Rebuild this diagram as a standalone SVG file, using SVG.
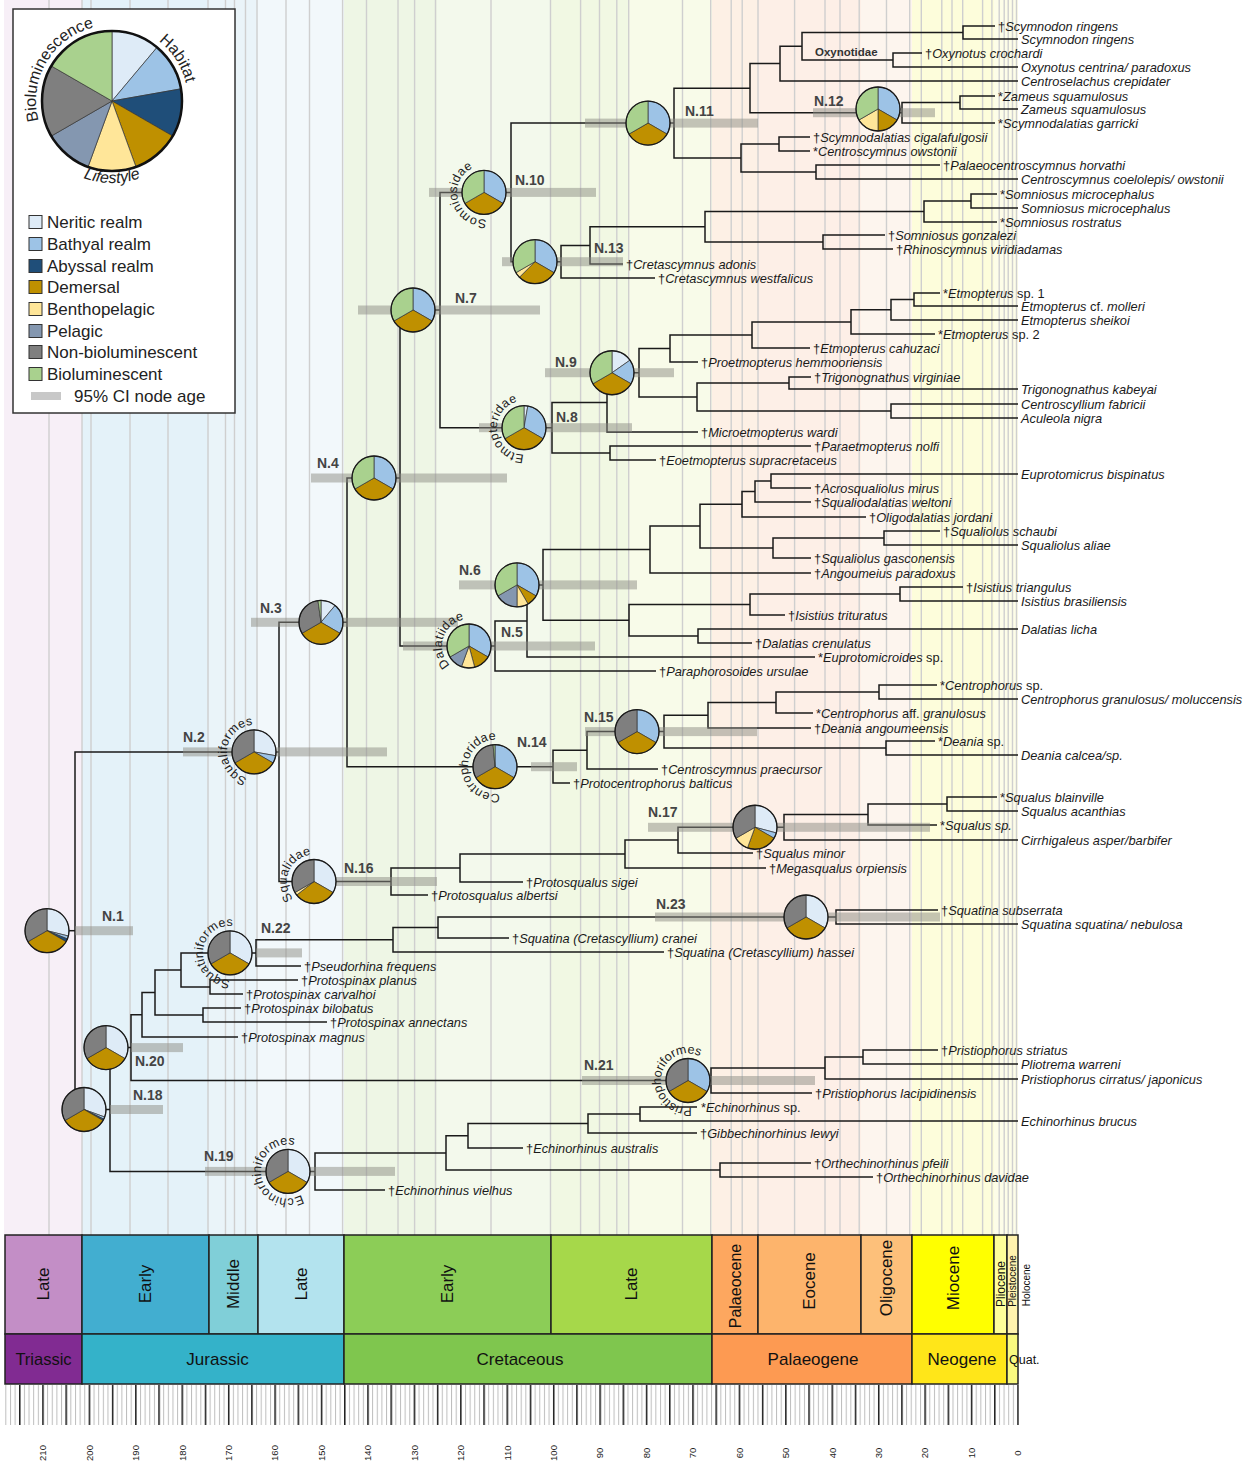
<svg xmlns="http://www.w3.org/2000/svg" width="1247" height="1464" viewBox="0 0 1247 1464">
<style>
.grid{fill:none;stroke:#cfcfcf;stroke-width:1.4}
.br{fill:none;stroke:#1a1a1a;stroke-width:1.5}
.ci{fill:#8c8c84;opacity:.5}
.tx{font-family:"Liberation Sans",Arial,sans-serif;font-size:12.8px;font-style:italic;fill:#1a1a1a}
.up{font-style:normal}
.nl{font-family:"Liberation Sans",Arial,sans-serif;font-size:14px;font-weight:bold;fill:#444}
.cl{font-family:"Liberation Sans",Arial,sans-serif;font-size:12.5px;letter-spacing:.3px;fill:#222}
.w{stroke:#333;stroke-width:.7}
.ner{fill:#deebf7}.bat{fill:#9dc3e6}.aby{fill:#1f4e79}.dem{fill:#bf9000}.ben{fill:#ffe699}.pel{fill:#8497b0}.non{fill:#7f7f7f}.bio{fill:#a9d18e}
.rim{fill:none;stroke:#1a1a1a;stroke-width:1.3}
.lg{font-family:"Liberation Sans",Arial,sans-serif;font-size:17px;fill:#222}
.lg2{font-family:"Liberation Sans",Arial,sans-serif;font-size:16px;fill:#222}
.sq{stroke:#333;stroke-width:1}
.ts{stroke:#222;stroke-width:1.5}
.t1{font-family:"Liberation Sans",Arial,sans-serif;fill:#111;text-anchor:middle}
.tk{font-family:"Liberation Sans",Arial,sans-serif;font-size:9.5px;fill:#222;text-anchor:middle}
</style>
<defs>
<pattern id="pm" patternUnits="userSpaceOnUse" x="1017.5" y="0" width="4.643" height="1464"><rect x="0" y="0" width="1" height="1464" fill="#bdbdbd"/></pattern>
<pattern id="pM" patternUnits="userSpaceOnUse" x="1017.25" y="0" width="23.215" height="1464"><rect x="0" y="0" width="1.5" height="1464" fill="#222"/></pattern>
<path id="cpSqf" d="M247,778 A27,27 0 1 1 273.1,771"/>
<path id="cpSom" d="M486.4,219.3 A27,27 0 1 1 508.5,203.8"/>
<path id="cpEtm" d="M524,454.7 A27,27 0 1 1 547.4,441.2"/>
<path id="cpDal" d="M449.9,665.1 A27,27 0 1 1 476,672.1"/>
<path id="cpCen" d="M499.7,793.3 A27,27 0 1 1 520.4,775.9"/>
<path id="cpSql" d="M293.3,898.9 A27,27 0 1 1 318.7,908.1"/>
<path id="cpSqt" d="M230,979.9 A27,27 0 1 1 253.4,966.4"/>
<path id="cpPri" d="M691.8,1107.2 A27,27 0 1 1 713,1090.6"/>
<path id="cpEch" d="M301.5,1194.8 A27,27 0 1 1 315,1171.4"/>
<path id="lpBio" d="M38.6,120.7 A76,76 0 0 1 150,35.2"/>
<path id="lpHab" d="M158.8,41.1 A76,76 0 0 1 170.2,149.9"/>
<path id="lpLif" d="M65,168.2 A82,82 0 0 0 159,168.2"/>
</defs>

<g id="background">
<rect x="4" y="0" width="78" height="1235" fill="#f7eff7"/>
<rect x="82" y="0" width="127" height="1235" fill="#e4f2f9"/>
<rect x="209" y="0" width="49" height="1235" fill="#eaf4f9"/>
<rect x="258" y="0" width="86" height="1235" fill="#f2f8fb"/>
<rect x="344" y="0" width="93" height="1235" fill="#eef6e5"/>
<rect x="437" y="0" width="114" height="1235" fill="#f3f9ec"/>
<rect x="551" y="0" width="78" height="1235" fill="#f1f8e3"/>
<rect x="629" y="0" width="83" height="1235" fill="#f8fbe9"/>
<rect x="712" y="0" width="46" height="1235" fill="#fdf0e5"/>
<rect x="758" y="0" width="103" height="1235" fill="#fdefe7"/>
<rect x="861" y="0" width="51" height="1235" fill="#fdf5ee"/>
<rect x="912" y="0" width="82" height="1235" fill="#fdfddb"/>
<rect x="994" y="0" width="24" height="1235" fill="#fdfde8"/>
<path class="grid" d="M49 0V1235M82 0V1235M91 0V1235M130 0V1235M168 0V1235M208 0V1235M225.5 0V1235M234.5 0V1235M245.5 0V1235M257 0V1235M286 0V1235M309.5 0V1235M342.6 0V1235M366.5 0V1235M398 0V1235M414.6 0V1235M435.5 0V1235M491 0V1235M550.5 0V1235M580.6 0V1235M599.5 0V1235M616.8 0V1235M628.7 0V1235M682.5 0V1235M710.7 0V1235M731.2 0V1235M742.2 0V1235M758 0V1235M794.6 0V1235M825 0V1235M840 0V1235M859.2 0V1235M886.5 0V1235M909.7 0V1235M921.3 0V1235M941.8 0V1235M952 0V1235M962.7 0V1235M982.6 0V1235M991.9 0V1235M999.2 0V1235M1004.2 0V1235M1008.2 0V1235M1012.5 0V1235M1016.5 0V1235"/>
</g>

<g id="connectors" class="br">
<path d="M995,26H963V39H1018"/>
<path d="M922,53H893V67H1018"/>
<path d="M963,32.5H802V60H893"/>
<path d="M802,46.25H780V81H1018"/>
<path d="M995,96H960V109H1018"/>
<path d="M960,102.5H902V123H995"/>
<path d="M780,63.6H750V112.75H902"/>
<path d="M810,137H779V151H810"/>
<path d="M940,165H816V179H1018"/>
<path d="M779,144H741V172H816"/>
<path d="M750,88.2H674V158H741"/>
<path d="M997,194H971V208H1018"/>
<path d="M971,201H924V222H997"/>
<path d="M885,235H823V249H893"/>
<path d="M924,211.5H705V242H823"/>
<path d="M705,226.75H590V264H623"/>
<path d="M590,245.4H561V278H655"/>
<path d="M674,123.1H511V261.7H561"/>
<path d="M940,293H914V306H1018"/>
<path d="M914,299.5H891V320H1018"/>
<path d="M891,309.75H851V334H935"/>
<path d="M851,321.9H752V348H810"/>
<path d="M752,335H670V362H698"/>
<path d="M811,377H789V389H1018"/>
<path d="M1018,404H891V418H1018"/>
<path d="M789,383H697V411H891"/>
<path d="M670,348.5H639V397H697"/>
<path d="M639,372.75H607V432H698"/>
<path d="M811,446H610V460H656"/>
<path d="M607,402.4H552V453H610"/>
<path d="M511,192.4H440V427.7H552"/>
<path d="M1018,474H771V488H811"/>
<path d="M771,481H755V502H811"/>
<path d="M755,491.5H742V517H866"/>
<path d="M940,531H884V545H1018"/>
<path d="M884,538H773V558H811"/>
<path d="M742,504.25H700V548H773"/>
<path d="M700,526.1H650V573H811"/>
<path d="M963,587H900V601H1018"/>
<path d="M900,594H750V615H785"/>
<path d="M1018,629H698V643H752"/>
<path d="M750,604.5H629V636H698"/>
<path d="M650,549.6H543V620.25H629"/>
<path d="M543,584.9H527V657H815"/>
<path d="M527,621H495V671H656"/>
<path d="M440,310H400V646H495"/>
<path d="M937,685H879V699H1018"/>
<path d="M879,692H776V713H813"/>
<path d="M776,702.5H708V728H811"/>
<path d="M935,741H886V755H1018"/>
<path d="M708,715.25H664V748H886"/>
<path d="M664,731.6H587V769H658"/>
<path d="M587,750.3H553V783H570"/>
<path d="M400,478H347V766.7H553"/>
<path d="M997,797H947V811H1018"/>
<path d="M947,804H868V825H937"/>
<path d="M868,814.5H784V840H1018"/>
<path d="M784,827.25H678V853H753"/>
<path d="M678,840.1H625V868H766"/>
<path d="M625,854H460V882H523"/>
<path d="M460,868H391V895H428"/>
<path d="M347,622.3H279V881.5H391"/>
<path d="M938,910H836V924H1018"/>
<path d="M836,917H438V938H509"/>
<path d="M438,927.5H393V952H664"/>
<path d="M393,939.75H256V966H301"/>
<path d="M298,980H210V994H243"/>
<path d="M256,952.9H181V987H210"/>
<path d="M241,1008H203V1022H327"/>
<path d="M181,970H155V1015H203"/>
<path d="M155,992.5H142V1037H238"/>
<path d="M938,1050H863V1064H1018"/>
<path d="M863,1057H825V1079H1018"/>
<path d="M825,1068H711V1093H812"/>
<path d="M142,1014.75H131V1080.5H711"/>
<path d="M697,1107H640V1121H1018"/>
<path d="M640,1114H588V1133H697"/>
<path d="M588,1123.5H468V1148H523"/>
<path d="M811,1163H720V1177H873"/>
<path d="M468,1135.75H446V1170H720"/>
<path d="M446,1152.9H315V1190H385"/>
<path d="M131,1047.6H110V1171.4H315"/>
<path d="M279,751.9H75V1109.5H110"/>
<path d="M47,930.7H75"/>
</g>

<g id="tips" class="tx">
<text x="998" y="30.5"><tspan class="up">†</tspan>Scymnodon ringens</text>
<text x="1021" y="43.5">Scymnodon ringens</text>
<text x="925" y="57.5"><tspan class="up">†</tspan>Oxynotus crochardi</text>
<text x="1021" y="71.5">Oxynotus centrina/ paradoxus</text>
<text x="1021" y="85.5">Centroselachus crepidater</text>
<text x="998" y="100.5"><tspan class="up">*</tspan>Zameus squamulosus</text>
<text x="1021" y="113.5">Zameus squamulosus</text>
<text x="998" y="127.5"><tspan class="up">*</tspan>Scymnodalatias garricki</text>
<text x="813" y="141.5"><tspan class="up">†</tspan>Scymnodalatias cigalafulgosii</text>
<text x="813" y="155.5"><tspan class="up">*</tspan>Centroscymnus owstonii</text>
<text x="943" y="169.5"><tspan class="up">†</tspan>Palaeocentroscymnus horvathi</text>
<text x="1021" y="183.5">Centroscymnus coelolepis/ owstonii</text>
<text x="1000" y="198.5"><tspan class="up">*</tspan>Somniosus microcephalus</text>
<text x="1021" y="212.5">Somniosus microcephalus</text>
<text x="1000" y="226.5"><tspan class="up">*</tspan>Somniosus rostratus</text>
<text x="888" y="239.5"><tspan class="up">†</tspan>Somniosus gonzalezi</text>
<text x="896" y="253.5"><tspan class="up">†</tspan>Rhinoscymnus viridiadamas</text>
<text x="626" y="268.5"><tspan class="up">†</tspan>Cretascymnus adonis</text>
<text x="658" y="282.5"><tspan class="up">†</tspan>Cretascymnus westfalicus</text>
<text x="943" y="297.5"><tspan class="up">*</tspan>Etmopterus<tspan class="up"> sp. 1</tspan></text>
<text x="1021" y="310.5">Etmopterus <tspan class="up">cf.</tspan> molleri</text>
<text x="1021" y="324.5">Etmopterus sheikoi</text>
<text x="938" y="338.5"><tspan class="up">*</tspan>Etmopterus<tspan class="up"> sp. 2</tspan></text>
<text x="813" y="352.5"><tspan class="up">†</tspan>Etmopterus cahuzaci</text>
<text x="701" y="366.5"><tspan class="up">†</tspan>Proetmopterus hemmooriensis</text>
<text x="814" y="381.5"><tspan class="up">†</tspan>Trigonognathus virginiae</text>
<text x="1021" y="393.5">Trigonognathus kabeyai</text>
<text x="1021" y="408.5">Centroscyllium fabricii</text>
<text x="1021" y="422.5">Aculeola nigra</text>
<text x="701" y="436.5"><tspan class="up">†</tspan>Microetmopterus wardi</text>
<text x="814" y="450.5"><tspan class="up">†</tspan>Paraetmopterus nolfi</text>
<text x="659" y="464.5"><tspan class="up">†</tspan>Eoetmopterus supracretaceus</text>
<text x="1021" y="478.5">Euprotomicrus bispinatus</text>
<text x="814" y="492.5"><tspan class="up">†</tspan>Acrosqualiolus mirus</text>
<text x="814" y="506.5"><tspan class="up">†</tspan>Squaliodalatias weltoni</text>
<text x="869" y="521.5"><tspan class="up">†</tspan>Oligodalatias jordani</text>
<text x="943" y="535.5"><tspan class="up">†</tspan>Squaliolus schaubi</text>
<text x="1021" y="549.5">Squaliolus aliae</text>
<text x="814" y="562.5"><tspan class="up">†</tspan>Squaliolus gasconensis</text>
<text x="814" y="577.5"><tspan class="up">†</tspan>Angoumeius paradoxus</text>
<text x="966" y="591.5"><tspan class="up">†</tspan>Isistius triangulus</text>
<text x="1021" y="605.5">Isistius brasiliensis</text>
<text x="788" y="619.5"><tspan class="up">†</tspan>Isistius trituratus</text>
<text x="1021" y="633.5">Dalatias licha</text>
<text x="755" y="647.5"><tspan class="up">†</tspan>Dalatias crenulatus</text>
<text x="818" y="661.5"><tspan class="up">*</tspan>Euprotomicroides<tspan class="up"> sp.</tspan></text>
<text x="659" y="675.5"><tspan class="up">†</tspan>Paraphorosoides ursulae</text>
<text x="940" y="689.5"><tspan class="up">*</tspan>Centrophorus<tspan class="up"> sp.</tspan></text>
<text x="1021" y="703.5">Centrophorus granulosus/ moluccensis</text>
<text x="816" y="717.5"><tspan class="up">*</tspan>Centrophorus <tspan class="up">aff.</tspan> granulosus</text>
<text x="814" y="732.5"><tspan class="up">†</tspan>Deania angoumeensis</text>
<text x="938" y="745.5"><tspan class="up">*</tspan>Deania<tspan class="up"> sp.</tspan></text>
<text x="1021" y="759.5">Deania calcea/sp.</text>
<text x="661" y="773.5"><tspan class="up">†</tspan>Centroscymnus praecursor</text>
<text x="573" y="787.5"><tspan class="up">†</tspan>Protocentrophorus balticus</text>
<text x="1000" y="801.5"><tspan class="up">*</tspan>Squalus blainville</text>
<text x="1021" y="815.5">Squalus acanthias</text>
<text x="940" y="829.5"><tspan class="up">*</tspan>Squalus sp.</text>
<text x="1021" y="844.5">Cirrhigaleus asper/barbifer</text>
<text x="756" y="857.5"><tspan class="up">†</tspan>Squalus minor</text>
<text x="769" y="872.5"><tspan class="up">†</tspan>Megasqualus orpiensis</text>
<text x="526" y="886.5"><tspan class="up">†</tspan>Protosqualus sigei</text>
<text x="431" y="899.5"><tspan class="up">†</tspan>Protosqualus albertsi</text>
<text x="941" y="914.5"><tspan class="up">†</tspan>Squatina subserrata</text>
<text x="1021" y="928.5">Squatina squatina/ nebulosa</text>
<text x="512" y="942.5"><tspan class="up">†</tspan>Squatina (Cretascyllium) cranei</text>
<text x="667" y="956.5"><tspan class="up">†</tspan>Squatina (Cretascyllium) hassei</text>
<text x="304" y="970.5"><tspan class="up">†</tspan>Pseudorhina frequens</text>
<text x="301" y="984.5"><tspan class="up">†</tspan>Protospinax planus</text>
<text x="246" y="998.5"><tspan class="up">†</tspan>Protospinax carvalhoi</text>
<text x="244" y="1012.5"><tspan class="up">†</tspan>Protospinax bilobatus</text>
<text x="330" y="1026.5"><tspan class="up">†</tspan>Protospinax annectans</text>
<text x="241" y="1041.5"><tspan class="up">†</tspan>Protospinax magnus</text>
<text x="941" y="1054.5"><tspan class="up">†</tspan>Pristiophorus striatus</text>
<text x="1021" y="1068.5">Pliotrema warreni</text>
<text x="1021" y="1083.5">Pristiophorus cirratus/ japonicus</text>
<text x="815" y="1097.5"><tspan class="up">†</tspan>Pristiophorus lacipidinensis</text>
<text x="701" y="1111.5"><tspan class="up">*</tspan>Echinorhinus<tspan class="up"> sp.</tspan></text>
<text x="1021" y="1125.5">Echinorhinus brucus</text>
<text x="700" y="1137.5"><tspan class="up">†</tspan>Gibbechinorhinus lewyi</text>
<text x="526" y="1152.5"><tspan class="up">†</tspan>Echinorhinus australis</text>
<text x="814" y="1167.5"><tspan class="up">†</tspan>Orthechinorhinus pfeili</text>
<text x="876" y="1181.5"><tspan class="up">†</tspan>Orthechinorhinus davidae</text>
<text x="388" y="1194.5"><tspan class="up">†</tspan>Echinorhinus vielhus</text>
</g>
<text id="oxynotidae" x="815" y="56" font-family="Liberation Sans, Arial, sans-serif" font-size="11.5" font-weight="bold" fill="#333">Oxynotidae</text>

<g id="N1"><rect class="ci" x="75" y="926.2" width="58" height="9"/>
<g transform="translate(47,930.7)"><path class="w ner" d="M0,0V-22A22,22 0 0 1 21.35,5.32Z"/><path class="w bat" d="M0,0L21.35,5.32A22,22 0 0 1 20.4,8.24Z"/><path class="w aby" d="M0,0L20.4,8.24A22,22 0 0 1 19.05,11Z"/><path class="w dem" d="M0,0L19.05,11A22,22 0 0 1 -19.05,11Z"/><path class="w non" d="M0,0L-19.05,11A22,22 0 0 1 0,-22Z"/><circle class="rim" r="22"/></g>
<text class="nl" x="102" y="921">N.1</text></g>

<g id="N2"><rect class="ci" x="183" y="747.4" width="204" height="9"/>
<g transform="translate(254,751.9)"><path class="w ner" d="M0,0V-22A22,22 0 0 1 21.67,3.82Z"/><path class="w bat" d="M0,0L21.67,3.82A22,22 0 0 1 19.05,11Z"/><path class="w dem" d="M0,0L19.05,11A22,22 0 0 1 -19.05,11Z"/><path class="w non" d="M0,0L-19.05,11A22,22 0 0 1 0,-22Z"/><circle class="rim" r="22"/></g>
<text class="nl" x="183" y="742">N.2</text>
<text class="cl"><textPath href="#cpSqf">Squaliformes</textPath></text></g>

<g id="N3"><rect class="ci" x="251" y="617.8" width="207" height="9"/>
<g transform="translate(321,622.3)"><path class="w ner" d="M0,0V-22A22,22 0 0 1 14.14,-16.85Z"/><path class="w bat" d="M0,0L14.14,-16.85A22,22 0 0 1 19.05,11Z"/><path class="w dem" d="M0,0L19.05,11A22,22 0 0 1 -19.05,11Z"/><path class="w non" d="M0,0L-19.05,11A22,22 0 0 1 -3.06,-21.79Z"/><path class="w bio" d="M0,0L-3.06,-21.79A22,22 0 0 1 0,-22Z"/><circle class="rim" r="22"/></g>
<text class="nl" x="260" y="613">N.3</text></g>

<g id="N4"><rect class="ci" x="311" y="473.5" width="196" height="9"/>
<g transform="translate(374,478)"><path class="w bat" d="M0,0V-22A22,22 0 0 1 19.05,11Z"/><path class="w dem" d="M0,0L19.05,11A22,22 0 0 1 -19.05,11Z"/><path class="w bio" d="M0,0L-19.05,11A22,22 0 0 1 0,-22Z"/><circle class="rim" r="22"/></g>
<text class="nl" x="317" y="468">N.4</text></g>

<g id="N5"><rect class="ci" x="403" y="641.5" width="192" height="9"/>
<g transform="translate(469,646)"><path class="w bat" d="M0,0V-22A22,22 0 0 1 19.05,11Z"/><path class="w dem" d="M0,0L19.05,11A22,22 0 0 1 5.69,21.25Z"/><path class="w ben" d="M0,0L5.69,21.25A22,22 0 0 1 -7.52,20.67Z"/><path class="w pel" d="M0,0L-7.52,20.67A22,22 0 0 1 -19.05,11Z"/><path class="w bio" d="M0,0L-19.05,11A22,22 0 0 1 0,-22Z"/><circle class="rim" r="22"/></g>
<text class="nl" x="501" y="637">N.5</text>
<text class="cl"><textPath href="#cpDal">Dalatiidae</textPath></text></g>

<g id="N6"><rect class="ci" x="459" y="580.4" width="178" height="9"/>
<g transform="translate(517,584.9)"><path class="w bat" d="M0,0V-22A22,22 0 0 1 19.05,11Z"/><path class="w dem" d="M0,0L19.05,11A22,22 0 0 1 11,19.05Z"/><path class="w ben" d="M0,0L11,19.05A22,22 0 0 1 0,22Z"/><path class="w pel" d="M0,0L0,22A22,22 0 0 1 -19.05,11Z"/><path class="w bio" d="M0,0L-19.05,11A22,22 0 0 1 0,-22Z"/><circle class="rim" r="22"/></g>
<text class="nl" x="459" y="575">N.6</text></g>

<g id="N7"><rect class="ci" x="358" y="305.5" width="182" height="9"/>
<g transform="translate(413,310)"><path class="w bat" d="M0,0V-22A22,22 0 0 1 19.05,11Z"/><path class="w dem" d="M0,0L19.05,11A22,22 0 0 1 -19.05,11Z"/><path class="w bio" d="M0,0L-19.05,11A22,22 0 0 1 0,-22Z"/><circle class="rim" r="22"/></g>
<text class="nl" x="455" y="303">N.7</text></g>

<g id="N8"><rect class="ci" x="479" y="423.2" width="153" height="9"/>
<g transform="translate(524,427.7)"><path class="w ner" d="M0,0V-22A22,22 0 0 1 3.82,-21.67Z"/><path class="w bat" d="M0,0L3.82,-21.67A22,22 0 0 1 19.05,11Z"/><path class="w dem" d="M0,0L19.05,11A22,22 0 0 1 -19.05,11Z"/><path class="w bio" d="M0,0L-19.05,11A22,22 0 0 1 0,-22Z"/><circle class="rim" r="22"/></g>
<text class="nl" x="556" y="422">N.8</text>
<text class="cl"><textPath href="#cpEtm">Etmopteridae</textPath></text></g>

<g id="N9"><rect class="ci" x="545" y="368.2" width="129" height="9"/>
<g transform="translate(612,372.75)"><path class="w ner" d="M0,0V-22A22,22 0 0 1 18.02,-12.62Z"/><path class="w bat" d="M0,0L18.02,-12.62A22,22 0 0 1 19.05,11Z"/><path class="w dem" d="M0,0L19.05,11A22,22 0 0 1 -19.05,11Z"/><path class="w bio" d="M0,0L-19.05,11A22,22 0 0 1 0,-22Z"/><circle class="rim" r="22"/></g>
<text class="nl" x="555" y="367">N.9</text></g>

<g id="N10"><rect class="ci" x="429" y="187.9" width="167" height="9"/>
<g transform="translate(484,192.4)"><path class="w bat" d="M0,0V-22A22,22 0 0 1 19.05,11Z"/><path class="w dem" d="M0,0L19.05,11A22,22 0 0 1 -19.05,11Z"/><path class="w bio" d="M0,0L-19.05,11A22,22 0 0 1 0,-22Z"/><circle class="rim" r="22"/></g>
<text class="nl" x="515" y="185">N.10</text>
<text class="cl"><textPath href="#cpSom">Somniosidae</textPath></text></g>

<g id="N11"><rect class="ci" x="585" y="118.6" width="173" height="9"/>
<g transform="translate(648,123.1)"><path class="w bat" d="M0,0V-22A22,22 0 0 1 19.05,11Z"/><path class="w dem" d="M0,0L19.05,11A22,22 0 0 1 -19.05,11Z"/><path class="w bio" d="M0,0L-19.05,11A22,22 0 0 1 0,-22Z"/><circle class="rim" r="22"/></g>
<text class="nl" x="685" y="116">N.11</text></g>

<g id="N12"><rect class="ci" x="813" y="108.2" width="122" height="9"/>
<g transform="translate(878,109)"><path class="w bat" d="M0,0V-22A22,22 0 0 1 19.05,11Z"/><path class="w dem" d="M0,0L19.05,11A22,22 0 0 1 0,22Z"/><path class="w ben" d="M0,0L0,22A22,22 0 0 1 -19.05,11Z"/><path class="w bio" d="M0,0L-19.05,11A22,22 0 0 1 0,-22Z"/><circle class="rim" r="22"/></g>
<text class="nl" x="814" y="106">N.12</text></g>

<g id="N13"><rect class="ci" x="502" y="257.2" width="121" height="9"/>
<g transform="translate(535,261.7)"><path class="w bat" d="M0,0V-22A22,22 0 0 1 19.05,11Z"/><path class="w dem" d="M0,0L19.05,11A22,22 0 0 1 -15.56,15.56Z"/><path class="w ben" d="M0,0L-15.56,15.56A22,22 0 0 1 -19.05,11Z"/><path class="w bio" d="M0,0L-19.05,11A22,22 0 0 1 0,-22Z"/><circle class="rim" r="22"/></g>
<text class="nl" x="594" y="253">N.13</text></g>

<g id="N14"><rect class="ci" x="531" y="762.2" width="46" height="9"/>
<g transform="translate(495,766.7)"><path class="w bat" d="M0,0V-22A22,22 0 0 1 19.05,11Z"/><path class="w dem" d="M0,0L19.05,11A22,22 0 0 1 -19.05,11Z"/><path class="w non" d="M0,0L-19.05,11A22,22 0 0 1 -1.92,-21.92Z"/><path class="w bio" d="M0,0L-1.92,-21.92A22,22 0 0 1 0,-22Z"/><circle class="rim" r="22"/></g>
<text class="nl" x="517" y="747">N.14</text>
<text class="cl"><textPath href="#cpCen">Centrophoridae</textPath></text></g>

<g id="N15"><rect class="ci" x="585" y="727.1" width="172" height="9"/>
<g transform="translate(637,731.6)"><path class="w bat" d="M0,0V-22A22,22 0 0 1 19.05,11Z"/><path class="w dem" d="M0,0L19.05,11A22,22 0 0 1 -19.05,11Z"/><path class="w non" d="M0,0L-19.05,11A22,22 0 0 1 0,-22Z"/><circle class="rim" r="22"/></g>
<text class="nl" x="584" y="722">N.15</text></g>

<g id="N16"><rect class="ci" x="315" y="877" width="122" height="9"/>
<g transform="translate(314,881.5)"><path class="w ner" d="M0,0V-22A22,22 0 0 1 19.05,11Z"/><path class="w dem" d="M0,0L19.05,11A22,22 0 0 1 -17.34,13.55Z"/><path class="w ben" d="M0,0L-17.34,13.55A22,22 0 0 1 -19.05,11Z"/><path class="w non" d="M0,0L-19.05,11A22,22 0 0 1 0,-22Z"/><circle class="rim" r="22"/></g>
<text class="nl" x="344" y="873">N.16</text>
<text class="cl"><textPath href="#cpSql">Squalidae</textPath></text></g>

<g id="N17"><rect class="ci" x="648" y="822.8" width="282" height="9"/>
<g transform="translate(755,827.25)"><path class="w ner" d="M0,0V-22A22,22 0 0 1 21.25,5.69Z"/><path class="w bat" d="M0,0L21.25,5.69A22,22 0 0 1 19.05,11Z"/><path class="w dem" d="M0,0L19.05,11A22,22 0 0 1 -7.52,20.67Z"/><path class="w ben" d="M0,0L-7.52,20.67A22,22 0 0 1 -19.05,11Z"/><path class="w non" d="M0,0L-19.05,11A22,22 0 0 1 0,-22Z"/><circle class="rim" r="22"/></g>
<text class="nl" x="648" y="817">N.17</text></g>

<g id="N18"><rect class="ci" x="110" y="1105" width="53" height="9"/>
<g transform="translate(84,1109.5)"><path class="w ner" d="M0,0V-22A22,22 0 0 1 20.67,7.52Z"/><path class="w bat" d="M0,0L20.67,7.52A22,22 0 0 1 19.77,9.64Z"/><path class="w aby" d="M0,0L19.77,9.64A22,22 0 0 1 19.05,11Z"/><path class="w dem" d="M0,0L19.05,11A22,22 0 0 1 -19.05,11Z"/><path class="w non" d="M0,0L-19.05,11A22,22 0 0 1 0,-22Z"/><circle class="rim" r="22"/></g>
<text class="nl" x="133" y="1100">N.18</text></g>

<g id="N19"><rect class="ci" x="205" y="1166.9" width="190" height="9"/>
<g transform="translate(288,1171.4)"><path class="w ner" d="M0,0V-22A22,22 0 0 1 19.05,11Z"/><path class="w dem" d="M0,0L19.05,11A22,22 0 0 1 -19.05,11Z"/><path class="w non" d="M0,0L-19.05,11A22,22 0 0 1 0,-22Z"/><circle class="rim" r="22"/></g>
<text class="nl" x="204" y="1161">N.19</text>
<text class="cl"><textPath href="#cpEch">Echinorhiniformes</textPath></text></g>

<g id="N20"><rect class="ci" x="131" y="1043.1" width="52" height="9"/>
<g transform="translate(106,1047.6)"><path class="w ner" d="M0,0V-22A22,22 0 0 1 19.05,11Z"/><path class="w dem" d="M0,0L19.05,11A22,22 0 0 1 -19.05,11Z"/><path class="w non" d="M0,0L-19.05,11A22,22 0 0 1 0,-22Z"/><circle class="rim" r="22"/></g>
<text class="nl" x="135" y="1066">N.20</text></g>

<g id="N21"><rect class="ci" x="582" y="1076" width="233" height="9"/>
<g transform="translate(688,1080.5)"><path class="w bat" d="M0,0V-22A22,22 0 0 1 19.05,11Z"/><path class="w dem" d="M0,0L19.05,11A22,22 0 0 1 -19.05,11Z"/><path class="w non" d="M0,0L-19.05,11A22,22 0 0 1 0,-22Z"/><circle class="rim" r="22"/></g>
<text class="nl" x="584" y="1070">N.21</text>
<text class="cl" style="letter-spacing:0"><textPath href="#cpPri">Pristiophoriformes</textPath></text></g>

<g id="N22"><rect class="ci" x="256" y="948.4" width="46" height="9"/>
<g transform="translate(230,952.9)"><path class="w ner" d="M0,0V-22A22,22 0 0 1 19.05,11Z"/><path class="w dem" d="M0,0L19.05,11A22,22 0 0 1 -19.05,11Z"/><path class="w non" d="M0,0L-19.05,11A22,22 0 0 1 0,-22Z"/><circle class="rim" r="22"/></g>
<text class="nl" x="261" y="933">N.22</text>
<text class="cl"><textPath href="#cpSqt">Squatiniformes</textPath></text></g>

<g id="N23"><rect class="ci" x="655" y="912.5" width="285" height="9"/>
<g transform="translate(806,917)"><path class="w ner" d="M0,0V-22A22,22 0 0 1 19.05,11Z"/><path class="w dem" d="M0,0L19.05,11A22,22 0 0 1 -19.05,11Z"/><path class="w non" d="M0,0L-19.05,11A22,22 0 0 1 0,-22Z"/><circle class="rim" r="22"/></g>
<text class="nl" x="656" y="909">N.23</text></g>

<g id="legend">
<rect x="13" y="9" width="222" height="404" fill="#fff" stroke="#333" stroke-width="1.5"/>
<path class="w ner" d="M112,101L112,31A70,70 0 0 1 157,47.38Z"/>
<path class="w bat" d="M112,101L157,47.38A70,70 0 0 1 180.94,88.84Z"/>
<path class="w aby" d="M112,101L180.94,88.84A70,70 0 0 1 172.62,136Z"/>
<path class="w dem" d="M112,101L172.62,136A70,70 0 0 1 135.94,166.78Z"/>
<path class="w ben" d="M112,101L135.94,166.78A70,70 0 0 1 88.06,166.78Z"/>
<path class="w pel" d="M112,101L88.06,166.78A70,70 0 0 1 51.38,136Z"/>
<path class="w non" d="M112,101L51.38,136A70,70 0 0 1 51.38,66Z"/>
<path class="w bio" d="M112,101L51.38,66A70,70 0 0 1 112,31Z"/>
<circle cx="112" cy="101" r="70" fill="none" stroke="#111" stroke-width="2.5"/>
<text class="lg2"><textPath href="#lpBio">Bioluminescence</textPath></text>
<text class="lg2"><textPath href="#lpHab">Habitat</textPath></text>
<text class="lg2" style="font-style:italic" text-anchor="middle"><textPath href="#lpLif" startOffset="50%">Lifestyle</textPath></text>
<rect class="sq ner" x="29" y="215.5" width="13" height="13"/><text class="lg" x="47" y="228">Neritic realm</text>
<rect class="sq bat" x="29" y="237.5" width="13" height="13"/><text class="lg" x="47" y="250">Bathyal realm</text>
<rect class="sq aby" x="29" y="259.5" width="13" height="13"/><text class="lg" x="47" y="272">Abyssal realm</text>
<rect class="sq dem" x="29" y="280.5" width="13" height="13"/><text class="lg" x="47" y="293">Demersal</text>
<rect class="sq ben" x="29" y="302.5" width="13" height="13"/><text class="lg" x="47" y="315">Benthopelagic</text>
<rect class="sq pel" x="29" y="324.5" width="13" height="13"/><text class="lg" x="47" y="337">Pelagic</text>
<rect class="sq non" x="29" y="345.5" width="13" height="13"/><text class="lg" x="47" y="358">Non-bioluminescent</text>
<rect class="sq bio" x="29" y="367.5" width="13" height="13"/><text class="lg" x="47" y="380">Bioluminescent</text>
<rect x="31" y="392" width="30" height="8" fill="#c8c8c8"/><text class="lg" x="74" y="402">95% CI node age</text>
</g>

<g id="timescale">
<rect class="ts" x="5" y="1235" width="77" height="99" fill="#c38ec6"/>
<rect class="ts" x="82" y="1235" width="127" height="99" fill="#42aed0"/>
<rect class="ts" x="209" y="1235" width="49" height="99" fill="#80cfd8"/>
<rect class="ts" x="258" y="1235" width="86" height="99" fill="#b3e3ee"/>
<rect class="ts" x="344" y="1235" width="207" height="99" fill="#8ccd57"/>
<rect class="ts" x="551" y="1235" width="161" height="99" fill="#a6d84a"/>
<rect class="ts" x="712" y="1235" width="46" height="99" fill="#fda75f"/>
<rect class="ts" x="758" y="1235" width="103" height="99" fill="#fdb46c"/>
<rect class="ts" x="861" y="1235" width="51" height="99" fill="#fdc07a"/>
<rect class="ts" x="912" y="1235" width="82" height="99" fill="#ffff00"/>
<rect class="ts" x="994" y="1235" width="13" height="99" fill="#ffff99"/>
<rect class="ts" x="1007" y="1235" width="11" height="99" fill="#fff2ae"/>
<rect class="ts" x="5" y="1334" width="77" height="50" fill="#812b92"/>
<rect class="ts" x="82" y="1334" width="262" height="50" fill="#34b2c9"/>
<rect class="ts" x="344" y="1334" width="368" height="50" fill="#7fc64e"/>
<rect class="ts" x="712" y="1334" width="200" height="50" fill="#fd9a52"/>
<rect class="ts" x="912" y="1334" width="95" height="50" fill="#ffe619"/>
<rect class="ts" x="1007" y="1334" width="11" height="50" fill="#f9f97f"/>
<text class="t1" style="font-size:17px" transform="translate(43.5,1284) rotate(-90)" dy=".35em">Late</text>
<text class="t1" style="font-size:17px" transform="translate(145.5,1284) rotate(-90)" dy=".35em">Early</text>
<text class="t1" style="font-size:17px" transform="translate(233.5,1284) rotate(-90)" dy=".35em">Middle</text>
<text class="t1" style="font-size:17px" transform="translate(301,1284) rotate(-90)" dy=".35em">Late</text>
<text class="t1" style="font-size:17px" transform="translate(447.5,1284) rotate(-90)" dy=".35em">Early</text>
<text class="t1" style="font-size:17px" transform="translate(631.5,1284) rotate(-90)" dy=".35em">Late</text>
<text class="t1" style="font-size:16px" transform="translate(735,1286) rotate(-90)" dy=".35em">Palaeocene</text>
<text class="t1" style="font-size:17px" transform="translate(809.5,1281) rotate(-90)" dy=".35em">Eocene</text>
<text class="t1" style="font-size:17px" transform="translate(886.5,1278) rotate(-90)" dy=".35em">Oligocene</text>
<text class="t1" style="font-size:17px" transform="translate(953,1278) rotate(-90)" dy=".35em">Miocene</text>
<text class="t1" style="font-size:12px" transform="translate(1000.5,1284) rotate(-90)" dy=".35em">Pliocene</text>
<text class="t1" style="font-size:10px" transform="translate(1012,1281) rotate(-90)" dy=".35em">Pleistocene</text>
<text class="t1" style="font-size:10px" transform="translate(1026,1285) rotate(-90)" dy=".35em">Holocene</text>
<text class="t1" style="font-size:16.5px" x="43.5" y="1365">Triassic</text>
<text class="t1" style="font-size:17px" x="217.5" y="1365">Jurassic</text>
<text class="t1" style="font-size:17px" x="520" y="1365">Cretaceous</text>
<text class="t1" style="font-size:17px" x="813" y="1365">Palaeogene</text>
<text class="t1" style="font-size:17px" x="962" y="1365">Neogene</text>
<text x="1009" y="1364" font-family="Liberation Sans, Arial, sans-serif" font-size="12.5" fill="#111">Quat.</text>
<rect x="5" y="1385" width="1014" height="40" fill="url(#pm)"/>
<rect x="5" y="1385" width="1014" height="40" fill="url(#pM)"/>
<text class="tk" transform="translate(1018,1453) rotate(-90)" dy=".35em">0</text>
<text class="tk" transform="translate(971.6,1453) rotate(-90)" dy=".35em">10</text>
<text class="tk" transform="translate(925.1,1453) rotate(-90)" dy=".35em">20</text>
<text class="tk" transform="translate(878.7,1453) rotate(-90)" dy=".35em">30</text>
<text class="tk" transform="translate(832.3,1453) rotate(-90)" dy=".35em">40</text>
<text class="tk" transform="translate(785.9,1453) rotate(-90)" dy=".35em">50</text>
<text class="tk" transform="translate(739.4,1453) rotate(-90)" dy=".35em">60</text>
<text class="tk" transform="translate(693,1453) rotate(-90)" dy=".35em">70</text>
<text class="tk" transform="translate(646.6,1453) rotate(-90)" dy=".35em">80</text>
<text class="tk" transform="translate(600.1,1453) rotate(-90)" dy=".35em">90</text>
<text class="tk" transform="translate(553.7,1453) rotate(-90)" dy=".35em">100</text>
<text class="tk" transform="translate(507.3,1453) rotate(-90)" dy=".35em">110</text>
<text class="tk" transform="translate(460.8,1453) rotate(-90)" dy=".35em">120</text>
<text class="tk" transform="translate(414.4,1453) rotate(-90)" dy=".35em">130</text>
<text class="tk" transform="translate(368,1453) rotate(-90)" dy=".35em">140</text>
<text class="tk" transform="translate(321.6,1453) rotate(-90)" dy=".35em">150</text>
<text class="tk" transform="translate(275.1,1453) rotate(-90)" dy=".35em">160</text>
<text class="tk" transform="translate(228.7,1453) rotate(-90)" dy=".35em">170</text>
<text class="tk" transform="translate(182.3,1453) rotate(-90)" dy=".35em">180</text>
<text class="tk" transform="translate(135.8,1453) rotate(-90)" dy=".35em">190</text>
<text class="tk" transform="translate(89.4,1453) rotate(-90)" dy=".35em">200</text>
<text class="tk" transform="translate(43,1453) rotate(-90)" dy=".35em">210</text>
</g>
</svg>
